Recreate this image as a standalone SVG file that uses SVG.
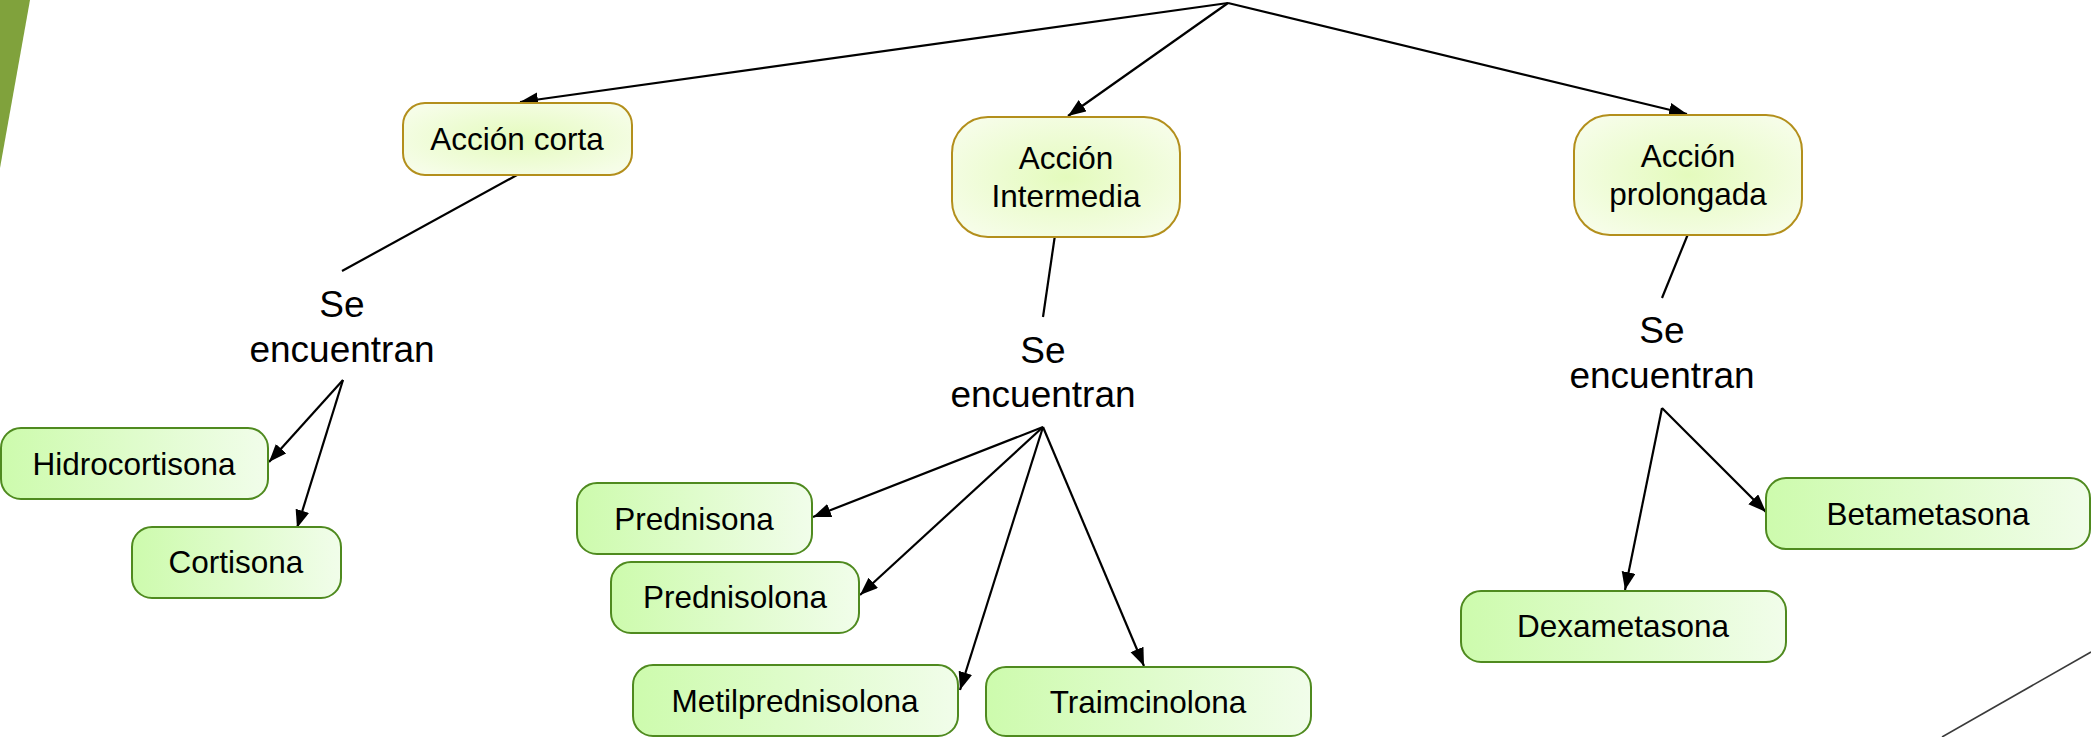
<svg xmlns="http://www.w3.org/2000/svg" width="2091" height="737" viewBox="0 0 2091 737">
<style>
.y{stroke:#b38f1c;stroke-width:2;fill:url(#gy)}
.g{stroke:#4f8a1f;stroke-width:2;fill:url(#gg)}
.t{font-family:"Liberation Sans",Arial,sans-serif;font-size:31.5px;fill:#000;text-anchor:middle}
.s{font-family:"Liberation Sans",Arial,sans-serif;font-size:37px;fill:#000;text-anchor:middle}
.c{stroke:#000;stroke-width:2.2;fill:none}
.a{marker-end:url(#ar)}
</style>
<defs>
<radialGradient id="gy" cx="0.5" cy="0.5" r="0.6">
<stop offset="0" stop-color="#e4fbbd"/>
<stop offset="1" stop-color="#f6fde8"/>
</radialGradient>
<linearGradient id="gg" x1="0" y1="0" x2="1" y2="0">
<stop offset="0" stop-color="#cdfbad"/>
<stop offset="1" stop-color="#f1fdea"/>
</linearGradient>
<marker id="ar" markerUnits="userSpaceOnUse" markerWidth="20" markerHeight="16" refX="18" refY="7" orient="auto">
<path d="M0,0 L18,7 L0,14 z" fill="#000"/>
</marker>
</defs>
<polygon points="0,0 30,0 0,168" fill="#80a23c"/>
<line x1="1942" y1="737" x2="2091" y2="652" stroke="#3a3a3a" stroke-width="1.6"/>
<g id="connectors">
<line class="c a" x1="1228" y1="3" x2="520" y2="102"/>
<line class="c a" x1="1228" y1="3" x2="1068" y2="116"/>
<line class="c a" x1="1228" y1="3" x2="1687" y2="114"/>
<line class="c" x1="517" y1="175" x2="342" y2="271"/>
<line class="c a" x1="343" y1="380" x2="269" y2="462"/>
<line class="c a" x1="343" y1="380" x2="297" y2="528"/>
<line class="c" x1="1055" y1="235" x2="1043" y2="317"/>
<line class="c a" x1="1043" y1="427" x2="813" y2="517"/>
<line class="c a" x1="1043" y1="427" x2="860" y2="595"/>
<line class="c a" x1="1043" y1="427" x2="960" y2="690"/>
<line class="c a" x1="1043" y1="427" x2="1144" y2="666"/>
<line class="c" x1="1688" y1="234" x2="1662" y2="298"/>
<line class="c a" x1="1662" y1="408" x2="1625" y2="590"/>
<line class="c a" x1="1662" y1="408" x2="1766" y2="512"/>
</g>
<g id="accion-corta">
<rect class="y" x="403" y="103" width="229" height="72" rx="22"/>
<text class="t" x="517" y="150">Acción corta</text>
</g>
<g id="accion-intermedia">
<rect class="y" x="952" y="117" width="228" height="120" rx="36"/>
<text class="t" x="1066" y="169">Acción</text>
<text class="t" x="1066" y="207">Intermedia</text>
</g>
<g id="accion-prolongada">
<rect class="y" x="1574" y="115" width="228" height="120" rx="36"/>
<text class="t" x="1688" y="167">Acción</text>
<text class="t" x="1688" y="205">prolongada</text>
</g>
<g id="se-encuentran-1">
<text class="s" x="342" y="317">Se</text>
<text class="s" x="342" y="362">encuentran</text>
</g>
<g id="se-encuentran-2">
<text class="s" x="1043" y="363">Se</text>
<text class="s" x="1043" y="407">encuentran</text>
</g>
<g id="se-encuentran-3">
<text class="s" x="1662" y="343">Se</text>
<text class="s" x="1662" y="388">encuentran</text>
</g>
<g id="hidrocortisona">
<rect class="g" x="1" y="428" width="267" height="71" rx="20"/>
<text class="t" x="134" y="475">Hidrocortisona</text>
</g>
<g id="cortisona">
<rect class="g" x="132" y="527" width="209" height="71" rx="20"/>
<text class="t" x="236" y="573">Cortisona</text>
</g>
<g id="prednisona">
<rect class="g" x="577" y="483" width="235" height="71" rx="20"/>
<text class="t" x="694" y="530">Prednisona</text>
</g>
<g id="prednisolona">
<rect class="g" x="611" y="562" width="248" height="71" rx="20"/>
<text class="t" x="735" y="608">Prednisolona</text>
</g>
<g id="metilprednisolona">
<rect class="g" x="633" y="665" width="325" height="71" rx="20"/>
<text class="t" x="795" y="712">Metilprednisolona</text>
</g>
<g id="traimcinolona">
<rect class="g" x="986" y="667" width="325" height="69" rx="20"/>
<text class="t" x="1148" y="713">Traimcinolona</text>
</g>
<g id="betametasona">
<rect class="g" x="1766" y="478" width="324" height="71" rx="20"/>
<text class="t" x="1928" y="525">Betametasona</text>
</g>
<g id="dexametasona">
<rect class="g" x="1461" y="591" width="325" height="71" rx="20"/>
<text class="t" x="1623" y="637">Dexametasona</text>
</g>
</svg>
